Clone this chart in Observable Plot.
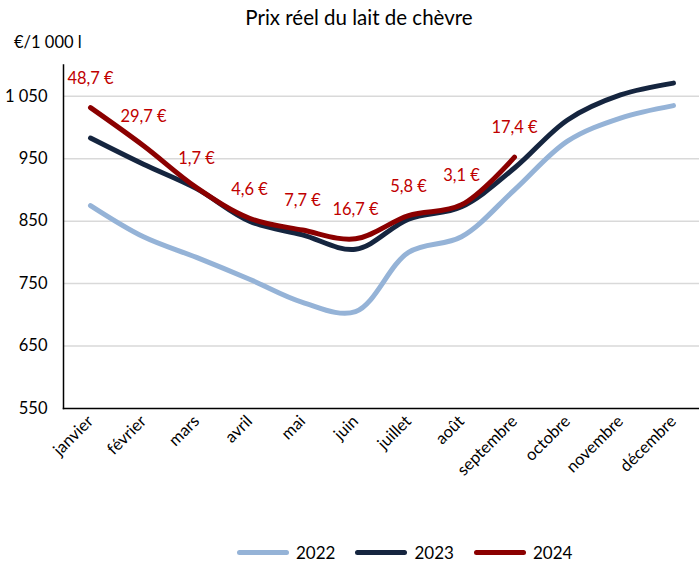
<!DOCTYPE html>
<html>
<head>
<meta charset="utf-8">
<script src="https://cdn.jsdelivr.net/npm/d3@7"></script>
<script src="https://cdn.jsdelivr.net/npm/@observablehq/plot@0.6"></script>
<style>
  html, body { margin: 0; padding: 0; background: #fff; }
  body { width: 699px; height: 564px; font-family: Lato, "Open Sans", sans-serif; position: relative; overflow: hidden; }
  #title { position: absolute; left: 0; top: 5px; width: 718px; text-align: center; font-size: 20.5px; color: #000; }
  #unit { position: absolute; left: 14px; top: 32px; font-size: 16.5px; color: #000; }
  #chart { position: absolute; left: 0; top: 30px; }
  #legend { position: absolute; top: 542px; left: 237px; display: flex; font-size: 17px; }
  .item { display: flex; align-items: center; margin-right: 20px; }
  .sw { width: 52px; height: 5px; border-radius: 3px; margin-right: 7px; }
</style>
</head>
<body>
<div id="title">Prix réel du lait de chèvre</div>
<div id="chart"></div>
<div id="unit">€/1 000 l</div>
<div id="legend"></div>
<script>
const months = ["janvier","février","mars","avril","mai","juin","juillet","août","septembre","octobre","novembre","décembre"];
const years = ["2022","2023","2024"];
const colors = ["#95b3d7","#15253f","#8b0000"];
const v2022 = [875, 825, 792, 757, 720, 705, 800, 825, 900, 978, 1015, 1035];
const v2023 = [983, 941, 902, 850, 828, 805, 853, 873, 935, 1012, 1052, 1071];
const v2024 = [1031.7, 970.7, 903.7, 854.6, 835.7, 821.7, 858.8, 876.1, 952.4];
const labels2024 = ["48,7 €","29,7 €","1,7 €","4,6 €","7,7 €","16,7 €","5,8 €","3,1 €","17,4 €"];
const yTicks = [550, 650, 750, 850, 950, 1050];

const series = [v2022, v2023, v2024];
const rows = [];
series.forEach((vals, i) => vals.forEach((v, j) => rows.push({month: months[j], value: v, year: years[i]})));
const labelRows = v2024.map((v, j) => ({month: months[j], value: v, text: labels2024[j]}));

const chart = Plot.plot({
  width: 699,
  height: 500,
  marginLeft: 63,
  marginRight: 0,
  marginTop: 34.5,
  marginBottom: 122,
  style: {fontFamily: "Lato, 'Open Sans', sans-serif", fontSize: "15px", color: "#000", background: "#fff", overflow: "visible"},
  x: {type: "point", domain: months, padding: 0.5, label: null},
  y: {domain: [550, 1100], label: null},
  color: {domain: years, range: colors},
  marks: [
    Plot.gridY(yTicks.slice(1), {stroke: "#d9d9d9", strokeOpacity: 1, strokeWidth: 1.5}),
    Plot.axisY({ticks: yTicks, tickSize: 0, tickPadding: 16, label: null, fontSize: 16.5,
      tickFormat: d => d3.format(",")(d).replace(",", " ")}),
    Plot.axisX({tickSize: 0, tickRotate: -45, tickPadding: 10, label: null, fontSize: 16.5}),
    Plot.frame({anchor: "left", stroke: "#000", strokeWidth: 1.5}),
    Plot.frame({anchor: "bottom", stroke: "#000", strokeWidth: 1.5}),
    Plot.line(rows, {x: "month", y: "value", z: "year", stroke: "year", curve: "catmull-rom", strokeWidth: 5, strokeLinecap: "round", strokeLinejoin: "round"}),
    Plot.text(labelRows, {x: "month", y: "value", text: "text", dy: -29, fill: "#c00000", fontSize: 16.5})
  ]
});
document.getElementById("chart").appendChild(chart);

const legend = document.getElementById("legend");
years.forEach((y, i) => {
  const it = document.createElement("div");
  it.className = "item";
  const sw = document.createElement("div");
  sw.className = "sw";
  sw.style.background = colors[i];
  const t = document.createElement("span");
  t.textContent = y;
  it.appendChild(sw); it.appendChild(t);
  legend.appendChild(it);
});
</script>
</body>
</html>
